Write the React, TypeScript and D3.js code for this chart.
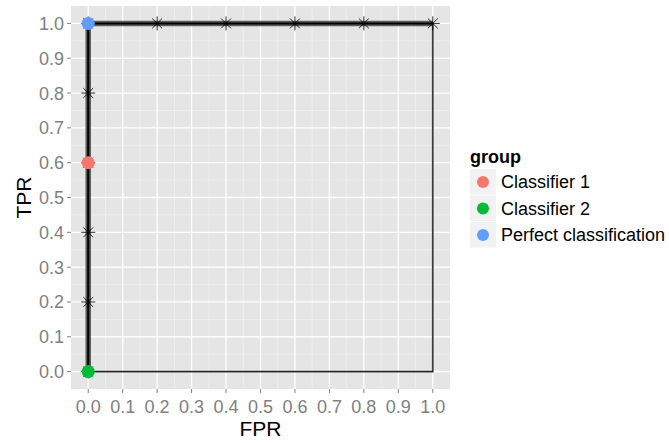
import React from "react";
import * as d3 from "d3";

// ROC curve traced by the thresholds (asterisk markers)
const rocFpr = [0, 0, 0, 0, 0, 0, 0.2, 0.4, 0.6, 0.8, 1.0];
const rocTpr = [0, 0.2, 0.4, 0.6, 0.8, 1.0, 1.0, 1.0, 1.0, 1.0, 1.0];

// Worst-case path along the bottom and right edges
const worstFpr = [0, 1, 1];
const worstTpr = [0, 0, 1];

// Operating points per group
const groupNames = ["Classifier 1", "Classifier 2", "Perfect classification"];
const groupFpr = [0, 0, 0];
const groupTpr = [0.6, 0, 1.0];
const groupColors = ["#F8766D", "#00BA38", "#619CFF"];

const tickValues = [0, 0.1, 0.2, 0.3, 0.4, 0.5, 0.6, 0.7, 0.8, 0.9, 1.0];
const minorValues = [0.05, 0.15, 0.25, 0.35, 0.45, 0.55, 0.65, 0.75, 0.85, 0.95];

const W = 669;
const H = 443;
const panel = { left: 71, right: 450, top: 6, bottom: 389 };
const FONT = "Liberation Sans, Arial, sans-serif";

export default function App() {
  const x = d3.scaleLinear().domain([-0.05, 1.05]).range([panel.left, panel.right]);
  const y = d3.scaleLinear().domain([-0.05, 1.05]).range([panel.bottom, panel.top]);

  const line = d3
    .line<[number, number]>()
    .x((d) => x(d[0]))
    .y((d) => y(d[1]));

  const rocPts: [number, number][] = rocFpr.map((f, i) => [f, rocTpr[i]]);
  const worstPts: [number, number][] = worstFpr.map((f, i) => [f, worstTpr[i]]);

  const star = (cx: number, cy: number, key: string) => {
    const r = 7;
    const d = r * 0.7071;
    return (
      <g key={key} stroke="#000" strokeWidth={0.8}>
        <line x1={cx - r} y1={cy} x2={cx + r} y2={cy} />
        <line x1={cx} y1={cy - r} x2={cx} y2={cy + r} />
        <line x1={cx - d} y1={cy - d} x2={cx + d} y2={cy + d} />
        <line x1={cx - d} y1={cy + d} x2={cx + d} y2={cy - d} />
      </g>
    );
  };

  return (
    <svg width={W} height={H} style={{ position: "absolute", left: 0, top: 0 }}>
      <rect x={0} y={0} width={W} height={H} fill="#fff" />
      {/* panel */}
      <rect
        x={panel.left}
        y={panel.top}
        width={panel.right - panel.left}
        height={panel.bottom - panel.top}
        fill="#E5E5E5"
      />
      {minorValues.map((v) => (
        <g key={"mn" + v}>
          <line x1={x(v)} x2={x(v)} y1={panel.top} y2={panel.bottom} stroke="#F2F2F2" strokeWidth={0.7} />
          <line y1={y(v)} y2={y(v)} x1={panel.left} x2={panel.right} stroke="#F2F2F2" strokeWidth={0.7} />
        </g>
      ))}
      {tickValues.map((v) => (
        <g key={"mj" + v}>
          <line x1={x(v)} x2={x(v)} y1={panel.top} y2={panel.bottom} stroke="#fff" strokeWidth={1.3} />
          <line y1={y(v)} y2={y(v)} x1={panel.left} x2={panel.right} stroke="#fff" strokeWidth={1.3} />
        </g>
      ))}

      {/* curves */}
      <path d={line(worstPts) || ""} fill="none" stroke="#555" strokeWidth={2} strokeOpacity={0.6} />
      <path d={line(worstPts) || ""} fill="none" stroke="#222" strokeWidth={1.1} />
      <path d={line(rocPts) || ""} fill="none" stroke="#444" strokeWidth={5.5} strokeOpacity={0.85} />
      <path d={line(rocPts) || ""} fill="none" stroke="#000" strokeWidth={2} />

      {rocPts.map((p, i) => star(x(p[0]), y(p[1]), "s" + i))}

      {groupNames.map((g, i) => (
        <circle key={g} cx={x(groupFpr[i])} cy={y(groupTpr[i])} r={6.5} fill={groupColors[i]} />
      ))}

      {/* axes */}
      {tickValues.map((v) => (
        <g key={"yt" + v}>
          <line x1={panel.left - 4} x2={panel.left} y1={y(v)} y2={y(v)} stroke="#7F7F7F" strokeWidth={1} />
          <text
            x={panel.left - 7}
            y={y(v)}
            dy="0.36em"
            textAnchor="end"
            fontFamily={FONT}
            fontSize={18}
            fill="#7F7F7F"
          >
            {d3.format(".1f")(v)}
          </text>
        </g>
      ))}
      {tickValues.map((v) => (
        <g key={"xt" + v}>
          <line y1={panel.bottom} y2={panel.bottom + 4} x1={x(v)} x2={x(v)} stroke="#7F7F7F" strokeWidth={1} />
          <text
            x={x(v)}
            y={412.5}
            textAnchor="middle"
            fontFamily={FONT}
            fontSize={18}
            fill="#7F7F7F"
          >
            {d3.format(".1f")(v)}
          </text>
        </g>
      ))}
      <text x={(panel.left + panel.right) / 2} y={436} textAnchor="middle" fontFamily={FONT} fontSize={21} fill="#000">
        FPR
      </text>
      <text
        transform={`translate(31,${(panel.top + panel.bottom) / 2}) rotate(-90)`}
        textAnchor="middle"
        fontFamily={FONT}
        fontSize={21}
        fill="#000"
      >
        TPR
      </text>

      {/* legend */}
      <text x={470} y={163} fontFamily={FONT} fontSize={18} fontWeight="bold" fill="#000">
        group
      </text>
      {groupNames.map((g, i) => {
        const top = 169 + i * 26.5;
        return (
          <g key={"lg" + g}>
            <rect x={470} y={top} width={26} height={25.5} fill="#F2F2F2" />
            <circle cx={483} cy={top + 13} r={6} fill={groupColors[i]} />
            <text x={501} y={top + 13} dy="0.35em" fontFamily={FONT} fontSize={18} fill="#000">
              {g}
            </text>
          </g>
        );
      })}
    </svg>
  );
}
